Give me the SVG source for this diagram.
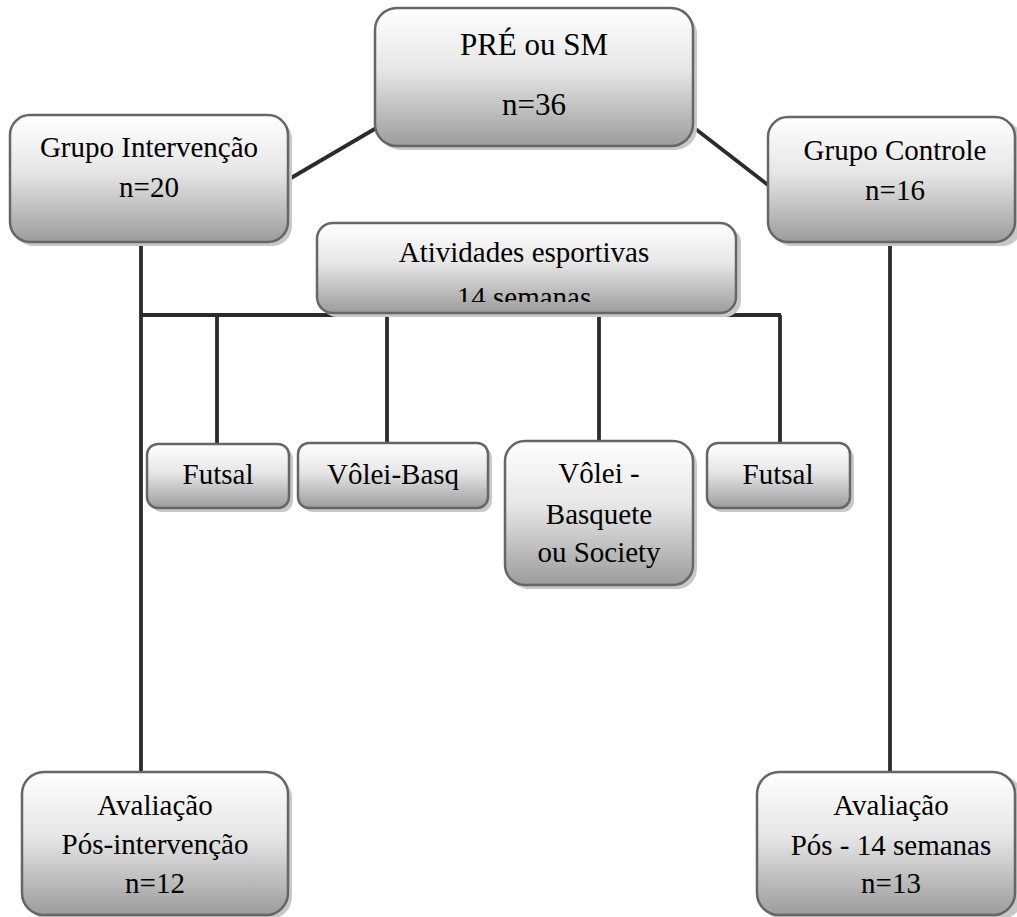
<svg xmlns="http://www.w3.org/2000/svg" width="1017" height="917" viewBox="0 0 1017 917">
<defs>
<linearGradient id="g" x1="0" y1="0" x2="0" y2="1">
<stop offset="0" stop-color="#ffffff"/>
<stop offset="0.45" stop-color="#e6e6e6"/>
<stop offset="1" stop-color="#9c9c9c"/>
</linearGradient>
<clipPath id="clipAt"><rect x="317" y="222" width="420" height="80"/></clipPath>
</defs>
<style>
.box{fill:url(#g);stroke:#666;stroke-width:2.5}
.sh{fill:#c8c8c8}
text{font-family:"Liberation Serif","Times New Roman",serif;font-size:29px;fill:#000;text-anchor:middle}
.big{font-size:31px}
.ln{stroke:#2b2b2b;stroke-width:3.8;fill:none}
</style>
<g id="connectors">
<line class="ln" x1="291" y1="178" x2="378" y2="127"/>
<line class="ln" x1="693" y1="127" x2="768" y2="185"/>
<line class="ln" x1="141" y1="242" x2="141" y2="772"/>
<line class="ln" x1="890" y1="242" x2="890" y2="772"/>
<line class="ln" x1="141" y1="315" x2="781" y2="315"/>
<line class="ln" x1="217" y1="315" x2="217" y2="444"/>
<line class="ln" x1="387" y1="315" x2="387" y2="443"/>
<line class="ln" x1="599" y1="315" x2="599" y2="441"/>
<line class="ln" x1="780" y1="315" x2="780" y2="443"/>
</g>
<g id="pre">
<rect class="sh" x="379" y="12" width="318" height="138" rx="22"/>
<rect class="box" x="375" y="8" width="318" height="138" rx="22"/>
<text class="big" x="534" y="55">PRÉ ou SM</text>
<text class="big" x="534" y="115">n=36</text>
</g>
<g id="intervencao">
<rect class="sh" x="14" y="119" width="278" height="127" rx="20"/>
<rect class="box" x="10" y="115" width="278" height="127" rx="20"/>
<text x="149" y="157">Grupo Intervenção</text>
<text x="149" y="197">n=20</text>
</g>
<g id="controle">
<rect class="sh" x="772" y="121" width="250" height="125" rx="20"/>
<rect class="box" x="768" y="117" width="247" height="125" rx="20"/>
<text x="895" y="160">Grupo Controle</text>
<text x="895" y="200">n=16</text>
</g>
<g id="atividades">
<rect class="sh" x="321" y="227" width="420" height="90" rx="16"/>
<rect class="box" x="317" y="223" width="419" height="90" rx="16"/>
<g clip-path="url(#clipAt)">
<text x="524" y="262">Atividades esportivas</text>
<text x="524" y="307">14 semanas</text>
</g>
</g>
<g id="futsal1">
<rect class="sh" x="151" y="448" width="142" height="64" rx="11"/>
<rect class="box" x="147" y="444" width="142" height="64" rx="11"/>
<text x="218" y="484">Futsal</text>
</g>
<g id="voleibasq">
<rect class="sh" x="302" y="447" width="190" height="65" rx="11"/>
<rect class="box" x="298" y="443" width="190" height="65" rx="11"/>
<text x="393" y="484">Vôlei-Basq</text>
</g>
<g id="voleisociety">
<rect class="sh" x="509" y="445" width="188" height="144" rx="20"/>
<rect class="box" x="505" y="441" width="188" height="144" rx="20"/>
<text x="599" y="483">Vôlei -</text>
<text x="599" y="524">Basquete</text>
<text x="599" y="562">ou Society</text>
</g>
<g id="futsal2">
<rect class="sh" x="711" y="447" width="143" height="65" rx="11"/>
<rect class="box" x="707" y="443" width="143" height="65" rx="11"/>
<text x="778" y="484">Futsal</text>
</g>
<g id="avalInt">
<rect class="sh" x="26" y="776" width="266" height="143" rx="22"/>
<rect class="box" x="22" y="772" width="266" height="143" rx="22"/>
<text x="155" y="815">Avaliação</text>
<text x="155" y="854">Pós-intervenção</text>
<text x="155" y="893">n=12</text>
</g>
<g id="avalCtrl">
<rect class="sh" x="761" y="776" width="262" height="143" rx="22"/>
<rect class="box" x="757" y="772" width="258" height="143" rx="22"/>
<text x="891" y="815">Avaliação</text>
<text x="891" y="855">Pós - 14 semanas</text>
<text x="891" y="893">n=13</text>
</g>
</svg>
